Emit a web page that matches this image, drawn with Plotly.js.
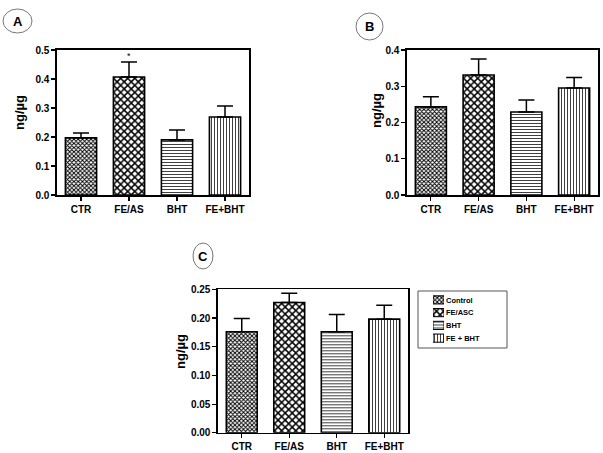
<!DOCTYPE html>
<html>
<head>
<meta charset="utf-8">
<script src="https://cdn.plot.ly/plotly-3.0.1.min.js"></script>
<style>html,body{margin:0;padding:0;background:#fff;}#chart{width:603px;height:453px;}</style>
</head>
<body>
<div id="chart"></div>
<script>
// ---- data ----
const categories = ["CTR", "FE/AS", "BHT", "FE+BHT"];
const legendNames = ["Control", "FE/ASC", "BHT", "FE + BHT"];
const valuesA = [0.197, 0.407, 0.190, 0.269];
const errorsA = [0.017, 0.052, 0.034, 0.038];
const valuesB = [0.243, 0.331, 0.229, 0.295];
const errorsB = [0.028, 0.044, 0.033, 0.029];
const valuesC = [0.176, 0.227, 0.176, 0.198];
const errorsC = [0.023, 0.016, 0.030, 0.024];
const panelLetters = ["A", "B", "C"];
const yTitle = "ng/µg";

// ---- styles ----
const W = 603, H = 453;
const fx = p => p / W;
const fy = p => 1 - p / H;
const patterns = [
  {shape: "x", size: 3, solidity: 0.55, fgcolor: "#000", bgcolor: "#fff"},
  {shape: "x", size: 5, solidity: 0.5, fgcolor: "#000", bgcolor: "#fff"},
  {shape: "-", size: 3, solidity: 0.25, fgcolor: "#000", bgcolor: "#fff"},
  {shape: "|", size: 3, solidity: 0.25, fgcolor: "#000", bgcolor: "#fff"}
];
const font = "Liberation Sans, Arial, sans-serif";

const panels = [
  {vals: valuesA, errs: errorsA, xa: "x", ya: "y", xd: [57, 249], yd: [50, 195], range: [0, 0.5], dtick: 0.1, fmt: ".1f", tx: 20, ty: 113},
  {vals: valuesB, errs: errorsB, xa: "x2", ya: "y2", xd: [407, 598], yd: [50, 195], range: [0, 0.4], dtick: 0.1, fmt: ".1f", tx: 376, ty: 111},
  {vals: valuesC, errs: errorsC, xa: "x3", ya: "y3", xd: [218, 408], yd: [289.3, 432.8], range: [0, 0.25], dtick: 0.05, fmt: ".2f", tx: 180, ty: 351}
];

const traces = [];
panels.forEach((p, pi) => {
  categories.forEach((c, i) => {
    traces.push({
      type: "bar",
      x: [c], y: [p.vals[i]],
      xaxis: p.xa, yaxis: p.ya,
      width: 0.65,
      name: legendNames[i],
      showlegend: false,
      marker: {color: "#fff", line: {color: "#000", width: 1.6}, pattern: patterns[i]},
      error_y: {type: "data", symmetric: false, array: [p.errs[i]], arrayminus: [0], color: "#000", thickness: 1.5, width: 8}
    });
  });
});

// legend swatches (panel C legend), drawn as a tiny subplot
legendNames.forEach((n, i) => {
  traces.push({
    type: "bar", orientation: "h",
    x: [1], y: [n], xaxis: "x4", yaxis: "y4",
    width: 0.64, showlegend: false,
    marker: {color: "#fff", line: {color: "#000", width: 1}, pattern: patterns[i]}
  });
});

const layout = {
  width: W, height: H,
  margin: {l: 0, r: 0, t: 0, b: 0},
  paper_bgcolor: "#fff", plot_bgcolor: "rgba(0,0,0,0)",
  barmode: "overlay",
  font: {family: font, color: "#000", size: 10},
  showlegend: false,
  shapes: [],
  annotations: []
};

const axisBase = {showline: true, mirror: true, linecolor: "#000", linewidth: 1.6, showgrid: false, zeroline: false,
  ticks: "outside", ticklen: 4, tickwidth: 1.2, tickcolor: "#000", fixedrange: true,
  tickfont: {family: font, size: 10, weight: "bold", color: "#000"}};

panels.forEach((p, pi) => {
  const sx = pi === 0 ? "" : String(pi + 1);
  layout["xaxis" + sx] = Object.assign({}, axisBase, {
    domain: [fx(p.xd[0]), fx(p.xd[1])], anchor: p.ya,
    type: "category", categoryorder: "array", categoryarray: categories, range: [-0.5, 3.5]
  });
  layout["yaxis" + sx] = Object.assign({}, axisBase, {
    domain: [fy(p.yd[1]), fy(p.yd[0])], anchor: p.xa,
    range: p.range, dtick: p.dtick, tick0: 0, tickformat: p.fmt
  });
  layout.annotations.push({
    xref: "paper", yref: "paper", x: fx(p.tx), y: fy(p.ty),
    text: yTitle, textangle: -90, showarrow: false, xanchor: "center", yanchor: "middle",
    font: {family: font, size: 13, weight: "bold", color: "#000"}
  });
});

// legend axes
layout.xaxis4 = {domain: [fx(433), fx(444)], anchor: "y4", range: [0, 1], visible: false, fixedrange: true};
layout.yaxis4 = {domain: [fy(344.5), fy(293.5)], anchor: "x4", type: "category", categoryorder: "array",
  categoryarray: legendNames, range: [3.5, -0.5], side: "right", showline: false, showgrid: false, zeroline: false,
  ticks: "", ticklabelstandoff: 1, fixedrange: true,
  tickfont: {family: font, size: 7.5, weight: "bold", color: "#000"}};
layout.shapes.push({type: "rect", xref: "paper", yref: "paper", x0: fx(418), x1: fx(507), y0: fy(348), y1: fy(291),
  line: {color: "#555", width: 1}, fillcolor: "rgba(0,0,0,0)"});

// panel letter ellipses
const letterPos = [
  {x0: 3, x1: 32, y0: 9, y1: 33},
  {x0: 356, x1: 383, y0: 13, y1: 40},
  {x0: 193, x1: 213, y0: 243, y1: 269}
];
letterPos.forEach((e, i) => {
  layout.shapes.push({type: "circle", xref: "paper", yref: "paper",
    x0: fx(e.x0), x1: fx(e.x1), y0: fy(e.y1), y1: fy(e.y0),
    line: {color: "#777", width: 1}});
  layout.annotations.push({xref: "paper", yref: "paper",
    x: fx((e.x0 + e.x1) / 2), y: fy((e.y0 + e.y1) / 2), text: panelLetters[i], showarrow: false,
    xanchor: "center", yanchor: "middle", font: {family: font, size: 13, weight: "bold", color: "#000"}});
});

// significance asterisk on panel A
layout.annotations.push({xref: "x", yref: "y", x: categories[1], y: valuesA[1] + errorsA[1],
  text: "*", showarrow: false, yanchor: "bottom", yshift: -1,
  font: {family: font, size: 9, color: "#000"}});

Plotly.newPlot("chart", traces, layout, {staticPlot: true, displayModeBar: false});
</script>
</body>
</html>
